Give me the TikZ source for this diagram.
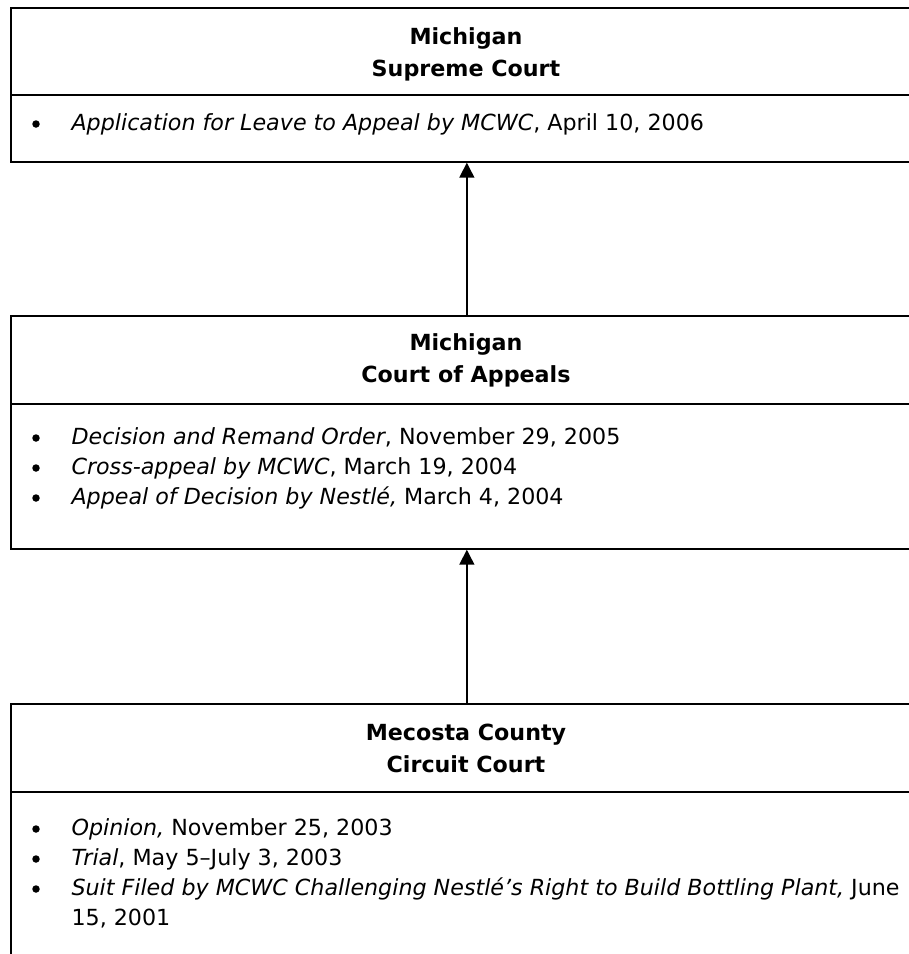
\documentclass[tikz,border=0pt]{standalone}
\usepackage{fontspec}
\setmainfont{DejaVu Sans}
\usetikzlibrary{positioning, arrows.meta}

\begin{document}
\begin{tikzpicture}[
    x=1pt, y=-1pt,
    court/.style={rectangle, draw, line width=1.7pt, minimum width=912pt, inner sep=0pt, anchor=north west},
    rule/.style={line width=1.7pt},
    head/.style={font=\fontsize{22.2}{32}\selectfont\bfseries, align=center},
    dot/.style={circle, fill, minimum size=7.5pt, inner sep=0pt, yshift=4pt},
    entry/.style={font=\fontsize{22.2}{29.5}\selectfont, anchor=mid west},
    edge/.style={-{Triangle[length=15pt, width=15pt]}, line width=1.5pt}
]
\useasboundingbox (0,0) rectangle (909,954);
\clip (0,0) rectangle (909,954);

% ================= SUPREME COURT =================
\node[court, minimum height=154pt] (supreme) at (10,7) {};
\draw[rule] (10,95) -- (922,95);
\node[head] (supremehead) at (466,54) {Michigan\\Supreme Court};
\node[dot] (s1) at (36,128) {};
\node[entry] (s1t) at (68,128) {\textit{Application for Leave to Appeal by MCWC}, April 10, 2006};

% ================= COURT OF APPEALS =================
\node[court, minimum height=233pt] (appeals) at (10,315) {};
\draw[rule] (10,404) -- (922,404);
\node[head] (appealshead) at (466,360) {Michigan\\Court of Appeals};
\node[dot] (a1) at (36,442) {};
\node[entry] (a1t) at (68,442) {\textit{Decision and Remand Order}, November 29, 2005};
\node[dot] (a2) at (36,472) {};
\node[entry] (a2t) at (68,472) {\textit{Cross-appeal by MCWC}, March 19, 2004};
\node[dot] (a3) at (36,502) {};
\node[entry] (a3t) at (68,502) {\textit{Appeal of Decision by Nestlé,} March 4, 2004};

% ================= CIRCUIT COURT =================
\node[court, minimum height=320pt] (circuit) at (10,703) {};
\draw[rule] (10,792) -- (922,792);
\node[head] (circuithead) at (466,748) {Mecosta County\\Circuit Court};
\node[dot] (c1) at (36,833) {};
\node[entry] (c1t) at (68,833) {\textit{Opinion,} November 25, 2003};
\node[dot] (c2) at (36,863) {};
\node[entry] (c2t) at (68,863) {\textit{Trial}, May 5–July 3, 2003};
\node[dot] (c3) at (36,893) {};
\node[entry] (c3t) at (68,893) {\parbox[t]{840pt}{\textit{Suit Filed by MCWC Challenging Nestlé’s Right to Build Bottling Plant,} June\\15, 2001}};

% ================= ARROWS =================
\draw[edge] (appeals.north) -- (supreme.south);
\draw[edge] (circuit.north) -- (appeals.south);

\end{tikzpicture}
\end{document}
